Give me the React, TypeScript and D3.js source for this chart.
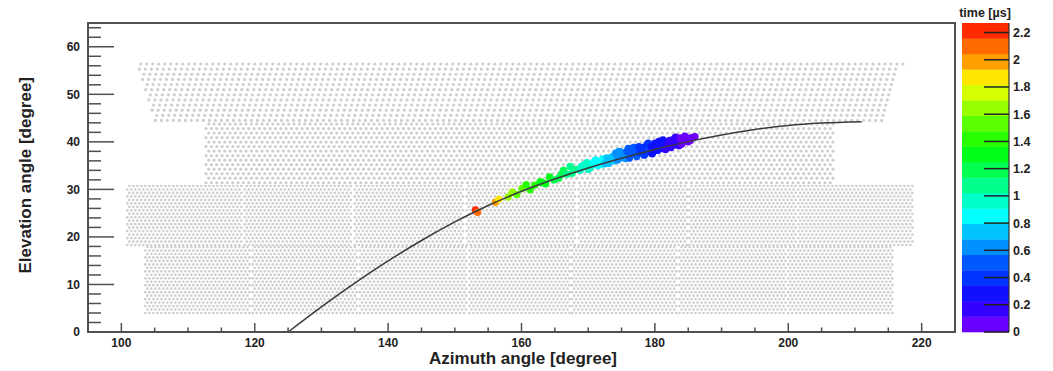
import React, { useMemo } from "react";
import * as d3 from "d3";

// ---- axis ticks ----
const xMajorTicks = [100, 120, 140, 160, 180, 200, 220];
const yMajorTicks = [0, 10, 20, 30, 40, 50, 60];
const zTicks = [0, 0.2, 0.4, 0.6, 0.8, 1, 1.2, 1.4, 1.6, 1.8, 2, 2.2];
const zTickLabels = ["0", "0.2", "0.4", "0.6", "0.8", "1", "1.2", "1.4", "1.6", "1.8", "2", "2.2"];

// ---- palette, bottom (0) to top (max) ----
const palette = [
  "#6a00ff", "#3400ff", "#1010ff", "#0034ff", "#0058ff", "#0090ff", "#00c4ff", "#00ffff",
  "#00ffc8", "#00ff8c", "#00ff50", "#00ff18", "#28ff00", "#5cff00", "#98ff00", "#d4ff00",
  "#ffe600", "#ffa000", "#ff6a00", "#ff2a00",
];
const zMax = 2.27;

// ---- fitted track (azimuth, elevation) ----
const trackAz = [125, 130, 135, 140, 145, 150, 155, 160, 165, 170, 175, 180, 185, 190, 195, 200, 205, 211];
const trackEl = [0, 5.3, 10.3, 14.95, 19.25, 23.15, 26.6, 29.6, 32.2, 34.5, 36.55, 38.4, 40.05, 41.45, 42.6, 43.45, 43.95, 44.25];

// ---- hit PMTs: azimuth, elevation, time [us] ----
const hitAz = [
  153.1, 153.4, 156.1, 156.6, 158.0, 158.6, 159.3, 160.1, 160.7, 161.3, 162.0, 162.8, 163.6, 164.2, 164.9, 165.6,
  166.3, 166.8, 167.3, 167.6, 168.2, 168.8, 169.4, 169.8, 170.3, 170.8, 171.1, 171.8, 172.2, 172.8, 173.1, 173.6,
  174.1, 174.4, 174.8, 175.3, 175.8, 176.2, 176.6, 177.0, 177.3, 177.8, 178.2, 178.6, 178.8, 179.3, 179.8, 180.2,
  180.6, 180.9, 181.4, 181.8, 182.2, 182.6, 182.9, 183.4, 183.8, 184.2, 184.8, 185.3, 186.0,
  174.6, 175.6, 176.8, 177.6, 178.4, 179.0, 179.6, 180.4, 181.2, 181.6, 182.4, 183.1, 183.6, 184.5, 185.6, 176.0,
  173.9, 172.5, 171.4, 170.0,
  174.9, 176.4, 177.2, 178.0, 179.5, 180.0, 181.0, 182.0, 183.0, 184.0, 185.0, 172.0, 171.0, 169.0, 166.0, 163.0,
];
const hitEl = [
  25.7, 25.2, 27.3, 27.9, 28.4, 29.4, 28.9, 30.2, 31.0, 29.9, 30.9, 31.6, 31.2, 32.6, 32.0, 32.4,
  34.0, 33.2, 34.8, 33.4, 34.2, 34.0, 35.2, 35.6, 34.5, 35.6, 36.2, 35.2, 36.4, 36.6, 35.5, 36.9,
  37.6, 36.2, 36.6, 37.4, 38.0, 36.6, 37.4, 38.3, 36.9, 37.8, 38.8, 37.6, 39.4, 38.5, 38.0, 39.2,
  40.1, 38.6, 39.6, 39.0, 40.3, 39.3, 40.6, 39.8, 40.8, 40.0, 40.8, 40.3, 41.1,
  38.0, 36.5, 38.8, 39.0, 37.2, 39.7, 37.5, 38.2, 40.4, 38.4, 38.8, 41.0, 39.2, 41.2, 40.9, 38.6,
  36.0, 35.4, 35.0, 34.2,
  37.9, 37.9, 37.7, 38.2, 39.0, 39.7, 39.1, 39.6, 39.4, 39.5, 40.0, 35.8, 35.3, 34.8, 33.2, 31.5,
];
const hitTime = [
  2.18, 2.15, 1.98, 1.83, 1.68, 1.62, 1.58, 1.50, 1.46, 1.44, 1.38, 1.34, 1.30, 1.26, 1.22, 1.19,
  1.14, 1.12, 1.09, 1.08, 1.04, 1.01, 0.97, 0.95, 0.92, 0.89, 0.86, 0.82, 0.80, 0.76, 0.74, 0.71,
  0.67, 0.66, 0.62, 0.59, 0.56, 0.54, 0.51, 0.49, 0.47, 0.44, 0.41, 0.39, 0.37, 0.35, 0.32, 0.30,
  0.27, 0.26, 0.23, 0.21, 0.19, 0.17, 0.15, 0.13, 0.11, 0.09, 0.07, 0.05, 0.03,
  0.64, 0.57, 0.50, 0.45, 0.40, 0.36, 0.33, 0.28, 0.24, 0.22, 0.18, 0.14, 0.12, 0.08, 0.04, 0.55,
  0.69, 0.78, 0.85, 0.94,
  0.62, 0.52, 0.47, 0.43, 0.34, 0.31, 0.25, 0.20, 0.14, 0.10, 0.06, 0.81, 0.87, 0.99, 1.16, 1.33,
];

// ---- camera fields of view (azimuth ranges, elevation ranges) ----
const lowCamAz = [[103.6, 119.3], [119.7, 135.4], [135.8, 151.8], [152.2, 167.2], [167.6, 183.3], [183.7, 199.6], [200.0, 215.6]];
const lowCamEl = [4.0, 17.9];
const midCamAz = [[100.9, 118.1], [118.5, 134.6], [135.0, 151.4], [151.8, 168.2], [168.6, 184.8], [185.2, 201.1], [201.5, 218.6]];
const midCamEl = [18.3, 30.9];
const upMidAz = [112.7, 206.8];
const upMidEl = [31.4, 44.0];
const upTopAzBottom = [105.1, 214.1];
const upTopAzTop = [102.4, 217.3];
const upTopEl = [44.5, 56.6];

const W = 1053;
const H = 371;
const L = 88, R = 955, T = 23, B = 332;
const CBL = 962, CBR = 1009;

function hexFill(
  azLeft: (e: number) => number,
  azRight: (e: number) => number,
  el0: number, el1: number, dAz: number, dEl: number
) {
  const out: [number, number][] = [];
  let r = 0;
  for (let e = el0; e <= el1 + 1e-6; e += dEl, r++) {
    const a0 = azLeft(e) + (r % 2) * dAz / 2;
    const a1 = azRight(e);
    for (let a = a0; a <= a1 + 1e-6; a += dAz) out.push([a, e]);
  }
  return out;
}

export default function App() {
  const x = d3.scaleLinear().domain([95, 225]).range([L, R]);
  const y = d3.scaleLinear().domain([0, 65]).range([B, T]);
  const z = d3.scaleLinear().domain([0, zMax]).range([B, T]);
  const bandW = zMax / palette.length;

  const colorOf = (t: number) => palette[Math.max(0, Math.min(palette.length - 1, Math.floor(t / bandW)))];

  const { lowDots, upDots } = useMemo(() => {
    const low: [number, number][] = [];
    lowCamAz.forEach(([a0, a1]) => low.push(...hexFill(() => a0, () => a1, lowCamEl[0], lowCamEl[1], 0.6, 0.73)));
    midCamAz.forEach(([a0, a1]) => low.push(...hexFill(() => a0, () => a1, midCamEl[0], midCamEl[1], 0.6, 0.73)));
    const up: [number, number][] = [];
    up.push(...hexFill(() => upMidAz[0], () => upMidAz[1], upMidEl[0], upMidEl[1], 0.8, 0.95));
    const f = (e: number) => (e - upTopEl[0]) / (upTopEl[1] - upTopEl[0]);
    up.push(...hexFill(
      (e) => upTopAzBottom[0] + (upTopAzTop[0] - upTopAzBottom[0]) * f(e),
      (e) => upTopAzBottom[1] + (upTopAzTop[1] - upTopAzBottom[1]) * f(e),
      upTopEl[0], upTopEl[1], 0.9, 1.08));
    return { lowDots: low, upDots: up };
  }, []);

  const xMinor = d3.range(95, 226, 5);
  const yMinor = d3.range(0, 65, 2);

  const line = d3.line<number>()
    .x((_, i) => x(trackAz[i]))
    .y((_, i) => y(trackEl[i]))
    .curve(d3.curveMonotoneX);

  const hits = hitAz.map((a, i) => ({ a, e: hitEl[i], t: hitTime[i] }));
  hits.sort((p, q) => q.t - p.t);

  const axisColor = "#505050";
  const font = "'Liberation Sans', Arial, Helvetica, sans-serif";

  return (
    <svg width={W} height={H} style={{ position: "fixed", left: 0, top: 0, background: "#fff" }}
      fontFamily={font}>
      <rect x={0} y={0} width={W} height={H} fill="#fff" />
      <g fill="#cfcfcf">
        {lowDots.map(([a, e], i) => (
          <circle key={"l" + i} cx={x(a)} cy={y(e)} r={1.35} />
        ))}
        {upDots.map(([a, e], i) => (
          <circle key={"u" + i} cx={x(a)} cy={y(e)} r={1.6} />
        ))}
      </g>
      <g>
        {hits.map((h, i) => (
          <circle key={"h" + i} cx={x(h.a)} cy={y(h.e)} r={3.7} fill={colorOf(h.t)} />
        ))}
      </g>
      <path d={line(trackAz) || ""} fill="none" stroke="#3a3a3a" strokeWidth={1.5} />

      <rect x={L} y={T} width={R - L} height={B - T} fill="none" stroke={axisColor} strokeWidth={2} />
      {xMinor.map((v) => {
        const major = v % 20 === 0;
        return (
          <line key={"xt" + v} x1={x(v)} x2={x(v)} y1={B} y2={B - (major ? 9 : 4.5)} stroke={axisColor} strokeWidth={1.5} />
        );
      })}
      {yMinor.map((v) => {
        const major = v % 10 === 0;
        return (
          <line key={"yt" + v} x1={L} x2={L + (major ? 26 : 13)} y1={y(v)} y2={y(v)} stroke={axisColor} strokeWidth={1.5} />
        );
      })}
      {xMajorTicks.map((v) => (
        <text key={"xl" + v} x={x(v)} y={347} textAnchor="middle" fontSize={12} fontWeight="bold" fill="#222">{v}</text>
      ))}
      {yMajorTicks.map((v) => (
        <text key={"yl" + v} x={80} y={y(v) + 4.3} textAnchor="end" fontSize={12} fontWeight="bold" fill="#222">{v}</text>
      ))}
      <text x={617} y={364} textAnchor="end" fontSize={17} fontWeight="bold" fill="#222">Azimuth angle [degree]</text>
      <text transform="translate(31,77) rotate(-90)" textAnchor="end" fontSize={17} fontWeight="bold" fill="#222">Elevation angle [degree]</text>

      {palette.map((c, i) => (
        <rect key={"cb" + i} x={CBL} width={CBR - CBL} y={z((i + 1) * bandW)} height={z(i * bandW) - z((i + 1) * bandW) + 0.3} fill={c} />
      ))}
      <line x1={CBR} x2={CBR} y1={T} y2={B} stroke="#333" strokeWidth={1.2} />
      {zTicks.map((v, i) => (
        <g key={"zt" + i}>
          <line x1={CBR - 25} x2={CBR} y1={z(v)} y2={z(v)} stroke="#222" strokeWidth={1.5} />
          <text x={1013} y={z(v) + 4.4} fontSize={12.5} fontWeight="bold" fill="#222">{zTickLabels[i]}</text>
        </g>
      ))}
      <text x={985} y={17} textAnchor="middle" fontSize={12.5} fontWeight="bold" fill="#222">time [µs]</text>
    </svg>
  );
}
